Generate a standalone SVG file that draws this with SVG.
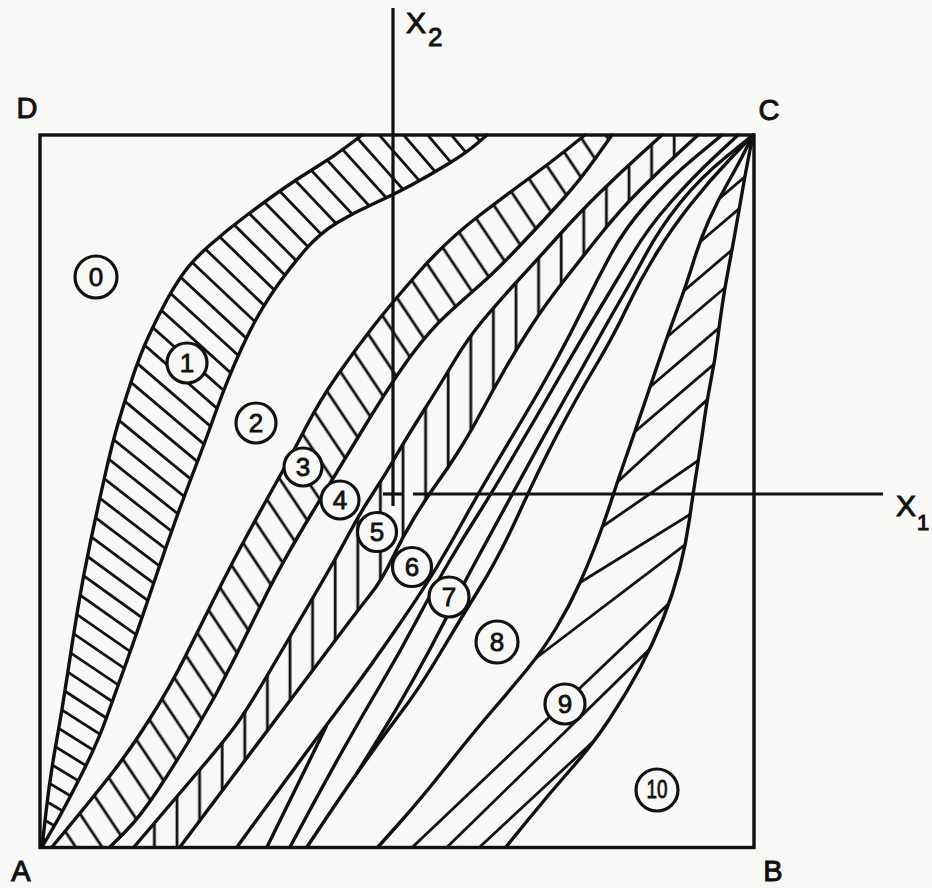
<svg xmlns="http://www.w3.org/2000/svg" width="932" height="888" viewBox="0 0 932 888">
<style>
.b{fill:none;stroke:#111;stroke-width:3.4;stroke-linejoin:round;stroke-linecap:round}
.h{stroke:#111;stroke-width:2.8;fill:none}
.ax{stroke:#111;stroke-width:3.2;fill:none}
.lbl{font-family:"Liberation Sans",Arial,sans-serif;fill:#111;stroke:#111;stroke-width:1}
.num{font-family:"Liberation Sans",Arial,sans-serif;fill:#111;stroke:#111;stroke-width:0.8;font-size:26px;text-anchor:middle}
.cc{fill:#f8f8f6;stroke:#111;stroke-width:3.2}
</style>
<defs>
<clipPath id="cBand1"><path d="M42,847 L46,812 Q50,777 56,744 Q62,711 67,677.5 Q72,644 77.5,610.5 Q83,577 90,544 Q97,511 104.5,477.5 Q112,444 118.5,422 Q125,400 132.5,377.5 Q140,355 148.5,336.5 Q157,318 166,301.5 Q175,285 184,272.5 Q193,260 210,245 Q227,230 247,215 Q267,200 283.5,188.5 Q300,177 316.5,167 Q333,157 347.5,146 L362,135 L487,135 L476.5,144 Q466,153 448,164 Q430,175 411.5,185 Q393,195 374,203.5 Q355,212 337.5,222.5 Q320,233 306,249 Q292,265 279.5,282.5 Q267,300 258.5,315 Q250,330 241.5,348.5 Q233,367 226.5,383.5 Q220,400 212.5,421 Q205,442 195,468 Q185,494 176,519 Q167,544 158.5,569 Q150,594 141.5,619 Q133,644 124,669 Q115,694 106,719 Q97,744 80,777.5 Q63,811 52.5,829 L42,847 Z"/></clipPath>
<clipPath id="cBand3"><path d="M52,847 L73.5,821 Q95,795 112.5,772.5 Q130,750 150,718.5 Q170,687 185,657 Q200,627 216.5,594 Q233,561 247.5,534.5 Q262,508 276,483 Q290,458 305,429 Q320,400 337.5,375 Q355,350 372.5,327.5 Q390,305 418.5,272.5 Q447,240 480,215 Q513,190 531.5,176.5 Q550,163 567.5,149 L585,135 L612,135 L596,157.5 Q580,180 563.5,198.5 Q547,217 522,243.5 Q497,270 481,284 Q465,298 447.5,314 Q430,330 411.5,355 Q393,380 365.5,425 Q338,470 310.5,515.5 Q283,561 266.5,594 Q250,627 233.5,660.5 Q217,694 197,727.5 Q177,761 158.5,789 Q140,817 125,832 L110,847 Z"/></clipPath>
<clipPath id="cBand5"><path d="M134,847 L157,820 Q180,793 202.5,766.5 Q225,740 236,725 Q247,710 269,672.5 Q291,635 313,597.5 Q335,560 347.5,536.5 Q360,513 372.5,494 Q385,475 396,456 Q407,437 423.5,411 Q440,385 454,361.5 Q468,338 484,319 Q500,300 517.5,281 Q535,262 557.5,237 Q580,212 600,192.5 Q620,173 641,154 L662,135 L698,135 L679,152.5 Q660,170 640,190 Q620,210 600,235 Q580,260 562.5,282.5 Q545,305 531,326.5 Q517,348 505,369 Q493,390 481.5,411.5 Q470,433 459,450.5 Q448,468 437.5,482.5 Q427,497 415,516.5 Q403,536 392.5,558 Q382,580 370,595 Q358,610 335.5,640 Q313,670 291.5,698.5 Q270,727 247.5,757 Q225,787 202.5,817 L180,847 Z"/></clipPath>
<clipPath id="cBand9"><path d="M378,847 L399,823.5 Q420,800 446.5,766.5 Q473,733 491.5,711.5 Q510,690 526.5,670 Q543,650 556.5,627.5 Q570,605 580,582.5 Q590,560 597.5,540 Q605,520 611.5,500 Q618,480 625,460 Q632,440 640,416.5 Q648,393 657.5,365 Q667,337 677,310 Q687,283 693.5,261.5 Q700,240 709,220 Q718,200 728,182.5 Q738,165 745.5,150 L753,135 L749.5,152.5 Q746,170 743,187.5 Q740,205 736,227.5 Q732,250 728.5,268.5 Q725,287 722.5,303.5 Q720,320 717.5,340 Q715,360 711,380 Q707,400 704.5,418.5 Q702,437 697.5,465.5 Q693,494 689.5,519 Q686,544 679.5,569 Q673,594 663,619 Q653,644 639.5,669 Q626,694 609.5,719 Q593,744 571,769 Q549,794 527.5,820.5 L506,847 Z"/></clipPath>
<pattern id="p3" patternUnits="userSpaceOnUse" width="22" height="40" patternTransform="rotate(-33.7)"><line x1="11" y1="-2" x2="11" y2="42" stroke="#111" stroke-width="2.8"/></pattern>
<pattern id="p5" patternUnits="userSpaceOnUse" width="22.6" height="40"><line x1="18.8" y1="-2" x2="18.8" y2="42" stroke="#111" stroke-width="2.8"/></pattern>
<line id="fl" x1="1928" y1="1901" x2="-1272" y2="1901"/>
<g id="f4"><use href="#fl"/><use href="#fl" transform="rotate(0.45 1928 1901)"/><use href="#fl" transform="rotate(0.9 1928 1901)"/><use href="#fl" transform="rotate(1.35 1928 1901)"/></g>
</defs>
<rect x="0" y="0" width="932" height="888" fill="#f8f8f6"/>

<g id="hatching">
<g id="hatch-band1" class="h" clip-path="url(#cBand1)">
<use href="#f4" transform="rotate(29.4 1928 1901)"/>
<use href="#f4" transform="rotate(31.2 1928 1901)"/>
<use href="#f4" transform="rotate(33 1928 1901)"/>
<use href="#f4" transform="rotate(34.8 1928 1901)"/>
<use href="#f4" transform="rotate(36.6 1928 1901)"/>
<use href="#f4" transform="rotate(38.4 1928 1901)"/>
<use href="#f4" transform="rotate(40.2 1928 1901)"/>
<use href="#f4" transform="rotate(42 1928 1901)"/>
<use href="#f4" transform="rotate(43.8 1928 1901)"/>
<use href="#f4" transform="rotate(45.6 1928 1901)"/>
<use href="#f4" transform="rotate(47.4 1928 1901)"/>
<use href="#f4" transform="rotate(49.2 1928 1901)"/>
<use href="#f4" transform="rotate(51 1928 1901)"/>
</g>
<rect id="hatch-band3" x="0" y="0" width="932" height="888" fill="url(#p3)" clip-path="url(#cBand3)"/>
<rect id="hatch-band5" x="0" y="0" width="932" height="888" fill="url(#p5)" clip-path="url(#cBand5)"/>
<g id="hatch-band9" class="h" clip-path="url(#cBand9)">
<line x1="700" y1="215" x2="780" y2="147"/>
<line x1="680" y1="259" x2="780" y2="174"/>
<line x1="665" y1="307" x2="780" y2="209"/>
<line x1="647" y1="354" x2="780" y2="241"/>
<line x1="630" y1="404" x2="780" y2="276"/>
<line x1="617" y1="447" x2="780" y2="308"/>
<line x1="600" y1="498" x2="780" y2="333"/>
<line x1="580" y1="542" x2="760" y2="418"/>
<line x1="560" y1="595" x2="760" y2="471"/>
<line x1="523" y1="668" x2="740" y2="503"/>
<line x1="400" y1="859" x2="720" y2="555"/>
<line x1="437" y1="857" x2="700" y2="600"/>
<line x1="470" y1="856" x2="680" y2="661"/>
</g>
</g>

<g id="boundaries">
<path id="b1" class="b" d="M42,847 L46,812 Q50,777 56,744 Q62,711 67,677.5 Q72,644 77.5,610.5 Q83,577 90,544 Q97,511 104.5,477.5 Q112,444 118.5,422 Q125,400 132.5,377.5 Q140,355 148.5,336.5 Q157,318 166,301.5 Q175,285 184,272.5 Q193,260 210,245 Q227,230 247,215 Q267,200 283.5,188.5 Q300,177 316.5,167 Q333,157 347.5,146 L362,135"/>
<path id="b2" class="b" d="M42,847 L52.5,829 Q63,811 80,777.5 Q97,744 106,719 Q115,694 124,669 Q133,644 141.5,619 Q150,594 158.5,569 Q167,544 176,519 Q185,494 195,468 Q205,442 212.5,421 Q220,400 226.5,383.5 Q233,367 241.5,348.5 Q250,330 258.5,315 Q267,300 279.5,282.5 Q292,265 306,249 Q320,233 337.5,222.5 Q355,212 374,203.5 Q393,195 411.5,185 Q430,175 448,164 Q466,153 476.5,144 L487,135"/>
<path id="b3" class="b" d="M52,847 L73.5,821 Q95,795 112.5,772.5 Q130,750 150,718.5 Q170,687 185,657 Q200,627 216.5,594 Q233,561 247.5,534.5 Q262,508 276,483 Q290,458 305,429 Q320,400 337.5,375 Q355,350 372.5,327.5 Q390,305 418.5,272.5 Q447,240 480,215 Q513,190 531.5,176.5 Q550,163 567.5,149 L585,135"/>
<path id="b4" class="b" d="M110,847 L125,832 Q140,817 158.5,789 Q177,761 197,727.5 Q217,694 233.5,660.5 Q250,627 266.5,594 Q283,561 310.5,515.5 Q338,470 365.5,425 Q393,380 411.5,355 Q430,330 447.5,314 Q465,298 481,284 Q497,270 522,243.5 Q547,217 563.5,198.5 Q580,180 596,157.5 L612,135"/>
<path id="b5" class="b" d="M134,847 L157,820 Q180,793 202.5,766.5 Q225,740 236,725 Q247,710 269,672.5 Q291,635 313,597.5 Q335,560 347.5,536.5 Q360,513 372.5,494 Q385,475 396,456 Q407,437 423.5,411 Q440,385 454,361.5 Q468,338 484,319 Q500,300 517.5,281 Q535,262 557.5,237 Q580,212 600,192.5 Q620,173 641,154 L662,135"/>
<path id="b6" class="b" d="M180,847 L202.5,817 Q225,787 247.5,757 Q270,727 291.5,698.5 Q313,670 335.5,640 Q358,610 370,595 Q382,580 392.5,558 Q403,536 415,516.5 Q427,497 437.5,482.5 Q448,468 459,450.5 Q470,433 481.5,411.5 Q493,390 505,369 Q517,348 531,326.5 Q545,305 562.5,282.5 Q580,260 600,235 Q620,210 640,190 Q660,170 679,152.5 L698,135"/>
<path id="b7" class="b" d="M237,847 L258.5,817.5 Q280,788 302.5,757.5 Q325,727 347.5,697 Q370,667 396.5,628.5 Q423,590 436.5,567.5 Q450,545 464,519.5 Q478,494 494,467 Q510,440 525,415 Q540,390 555,362.5 Q570,335 583.5,307.5 Q597,280 611,254 Q625,228 647.5,203 Q670,178 696,156.5 L722,135"/>
<path id="b7a" class="b" d="M267,847 L326,727"/>
<path id="m1" class="b" d="M290,847 L307.5,814.5 Q325,782 343.5,749 Q362,716 381,684 Q400,652 418.5,617 Q437,582 451,558.5 Q465,535 478,514.5 Q491,494 505.5,469.5 Q520,445 536,417.5 Q552,390 568.5,361.5 Q585,333 601,306.5 Q617,280 632.5,254 Q648,228 670,203 Q692,178 715,156.5 L738,135"/>
<path id="m2" class="b" d="M357,773 L376,742.5 Q395,712 412.5,681 Q430,650 446.5,617.5 Q463,585 476.5,560 Q490,535 505,507.5 Q520,480 535,452.5 Q550,425 565,398.5 Q580,372 595,345 Q610,318 621,299 Q632,280 646,254 Q660,228 680,203 Q700,178 726.5,156.5 L753,135"/>
<path id="b8" class="b" d="M307,847 L321,826 Q335,805 346,789 Q357,773 373.5,750 Q390,727 405,707 Q420,687 440,653.5 Q460,620 480,587.5 Q500,555 520,511 Q540,467 558.5,432 Q577,397 595,367 Q613,337 626.5,308.5 Q640,280 656,254 Q672,228 691,204 Q710,180 731.5,157.5 L753,135"/>
<path id="b9" class="b" d="M378,847 L399,823.5 Q420,800 446.5,766.5 Q473,733 491.5,711.5 Q510,690 526.5,670 Q543,650 556.5,627.5 Q570,605 580,582.5 Q590,560 597.5,540 Q605,520 611.5,500 Q618,480 625,460 Q632,440 640,416.5 Q648,393 657.5,365 Q667,337 677,310 Q687,283 693.5,261.5 Q700,240 709,220 Q718,200 728,182.5 Q738,165 745.5,150 L753,135"/>
<path id="b10" class="b" d="M506,847 L527.5,820.5 Q549,794 571,769 Q593,744 609.5,719 Q626,694 639.5,669 Q653,644 663,619 Q673,594 679.5,569 Q686,544 689.5,519 Q693,494 697.5,465.5 Q702,437 704.5,418.5 Q707,400 711,380 Q715,360 717.5,340 Q720,320 722.5,303.5 Q725,287 728.5,268.5 Q732,250 736,227.5 Q740,205 743,187.5 Q746,170 749.5,152.5 L753,135"/>
</g>

<g id="frame">
<rect x="40" y="135" width="714" height="712.5" fill="none" stroke="#111" stroke-width="3.4"/>
</g>

<g id="axes">
<line class="ax" x1="393" y1="8" x2="393" y2="506"/>
<line class="ax" x1="413" y1="494" x2="883" y2="494"/>
<line class="ax" x1="383" y1="494" x2="403" y2="494"/>
</g>

<g id="corner-labels">
<text class="lbl" x="27" y="118" font-size="29" text-anchor="middle">D</text>
<text class="lbl" x="769" y="120" font-size="29" text-anchor="middle">C</text>
<text class="lbl" x="21" y="881" font-size="29" text-anchor="middle">A</text>
<text class="lbl" x="773" y="881" font-size="29" text-anchor="middle">B</text>
<text class="lbl" x="406" y="33" font-size="30">X</text>
<text class="lbl" x="428" y="46" font-size="26">2</text>
<text class="lbl" x="896" y="516" font-size="30">X</text>
<text class="lbl" x="917" y="530" font-size="22">1</text>
</g>

<g id="region-labels">
<g id="r0"><circle class="cc" cx="96" cy="277" r="21"/><text class="num" x="96" y="286.3">0</text></g>
<g id="r1"><circle class="cc" cx="187" cy="363" r="20"/><text class="num" x="187" y="372.3">1</text></g>
<g id="r2"><circle class="cc" cx="256" cy="423" r="20"/><text class="num" x="256" y="432.3">2</text></g>
<g id="r3"><circle class="cc" cx="303" cy="467" r="19"/><text class="num" x="303" y="476.3">3</text></g>
<g id="r4"><circle class="cc" cx="340" cy="500" r="19"/><text class="num" x="340" y="509.3">4</text></g>
<g id="r5"><circle class="cc" cx="377" cy="532" r="19.5"/><text class="num" x="377" y="541.3">5</text></g>
<g id="r6"><circle class="cc" cx="412" cy="567" r="19.5"/><text class="num" x="412" y="576.3">6</text></g>
<g id="r7"><circle class="cc" cx="449" cy="597" r="20"/><text class="num" x="449" y="606.3">7</text></g>
<g id="r8"><circle class="cc" cx="497" cy="642" r="21"/><text class="num" x="497" y="651.3">8</text></g>
<g id="r9"><circle class="cc" cx="565" cy="704" r="20"/><text class="num" x="565" y="713.3">9</text></g>
<g id="r10"><circle class="cc" cx="657" cy="790" r="21"/><text class="num" x="657" y="798" font-size="22" textLength="21" lengthAdjust="spacingAndGlyphs">10</text></g>
</g>
</svg>
